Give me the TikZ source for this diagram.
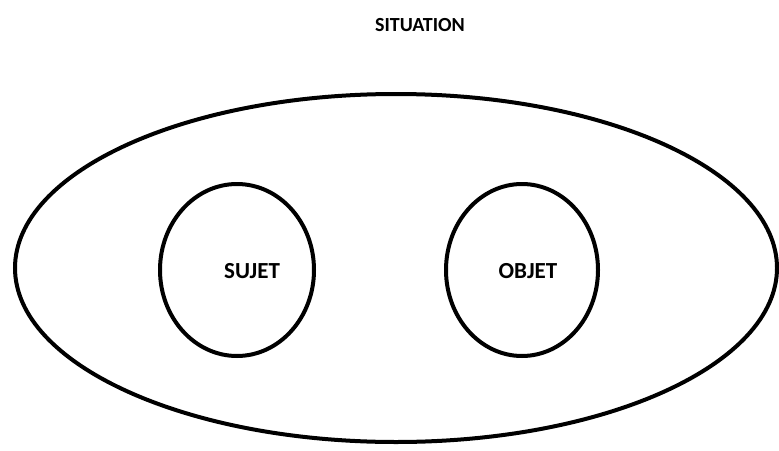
\documentclass[tikz,border=0pt]{standalone}
\usepackage{fontspec}
\setmainfont{Carlito}
\usetikzlibrary{shapes.geometric, positioning}

\begin{document}
\begin{tikzpicture}[
    x=1pt, y=-1pt,
    zone/.style={ellipse, draw, line width=4pt, inner sep=0pt},
    label/.style={font=\fontsize{20}{24}\selectfont\bfseries},
    inlabel/.style={font=\fontsize{23}{27}\selectfont\bfseries}
]
\useasboundingbox (0,0) rectangle (779,450);

% Title
\node[label] (titre) at (420,25) {SITUATION};

% Outer area
\node[zone, minimum width=762pt, minimum height=348pt] (cadre) at (396,268) {};

% Inner areas
\node[zone, minimum width=154pt, minimum height=172pt] (sujet) at (237,270) {};
\node[zone, minimum width=152pt, minimum height=172pt] (objet) at (522,270) {};

% Labels
\node[inlabel] (tsujet) at (252,271) {SUJET};
\node[inlabel] (tobjet) at (528,271) {OBJET};

\end{tikzpicture}
\end{document}
